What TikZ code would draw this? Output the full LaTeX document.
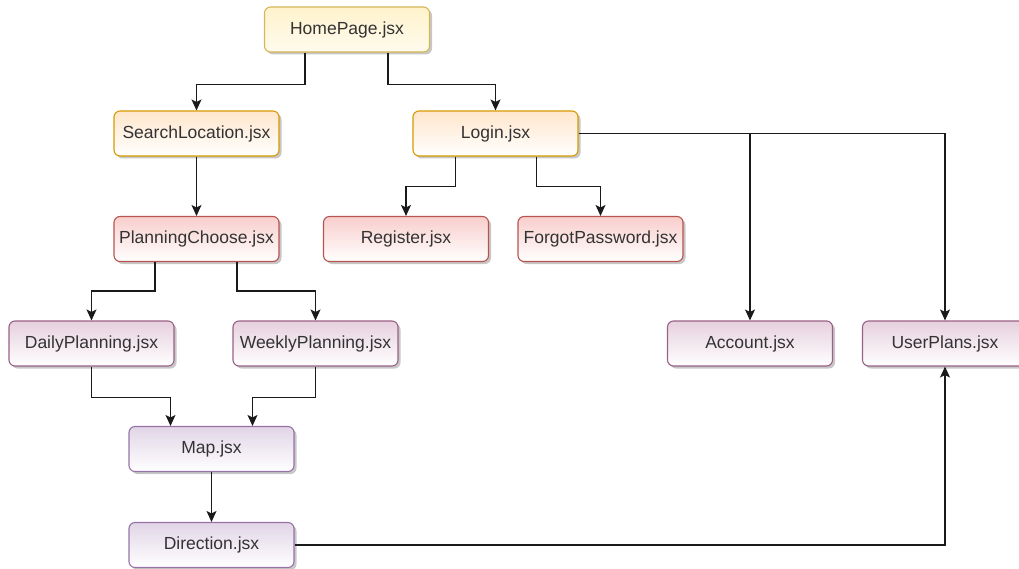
\documentclass[tikz,border=0pt]{standalone}
\usepackage{fontspec}
\setmainfont{Liberation Sans}
\usetikzlibrary{arrows.meta,shadows}

\definecolor{txt}{HTML}{333333}
\definecolor{wire}{HTML}{1A1A1A}
% component colour families: stroke / top fill
\definecolor{yelS}{HTML}{D6B656}\definecolor{yelF}{HTML}{FFF2CC}
\definecolor{orgS}{HTML}{D79B00}\definecolor{orgF}{HTML}{FFE6CC}
\definecolor{redS}{HTML}{B85450}\definecolor{redF}{HTML}{F8CECC}
\definecolor{pnkS}{HTML}{996185}\definecolor{pnkF}{HTML}{E6D0DE}
\definecolor{purS}{HTML}{9673A6}\definecolor{purF}{HTML}{E1D5E7}

\tikzset{
  comp/.style={rectangle, rounded corners=6pt, minimum width=165pt,
    minimum height=45pt, inner sep=0pt, line width=1.1pt, text=txt,
    font=\fontsize{17.5}{19}\selectfont,
    drop shadow={shadow xshift=2.5pt, shadow yshift=-2.5pt, opacity=0.22, fill=black}},
  yel/.style={comp, draw=yelS, top color=yelF, bottom color=yelF!35!white},
  org/.style={comp, draw=orgS, top color=orgF, bottom color=white},
  red/.style={comp, draw=redS, top color=redF, bottom color=white},
  pnk/.style={comp, draw=pnkS, top color=pnkF, bottom color=white},
  pur/.style={comp, draw=purS, top color=purF, bottom color=white},
  arr/.style={draw=wire, line width=1.2pt,
    -{Stealth[length=11pt, width=10pt, inset=2.5pt]}},
}

\begin{document}
\begin{tikzpicture}[x=1pt, y=-1pt]
\useasboundingbox (0,0) rectangle (1019,569);

% components
\node[yel] (home)   at (347,29.5)  {HomePage.jsx};
\node[org] (search) at (196.5,133.5) {SearchLocation.jsx};
\node[org] (login)  at (495.5,133.5) {Login.jsx};
\node[red] (plan)   at (196.5,239)   {PlanningChoose.jsx};
\node[red] (reg)    at (406,239)   {Register.jsx};
\node[red] (forgot) at (600.5,239) {ForgotPassword.jsx};
\node[pnk] (daily)  at (91.5,343.5) {DailyPlanning.jsx};
\node[pnk] (weekly) at (315.5,343.5) {WeeklyPlanning.jsx};
\node[pnk] (acct)   at (750,343.5) {Account.jsx};
\node[pnk] (uplans) at (945,343.5) {UserPlans.jsx};
\node[pur] (map)    at (211.5,449) {Map.jsx};
\node[pur] (dir)    at (211.5,545) {Direction.jsx};

% navigation links
\draw[arr] ([xshift=-42pt]home.south) -- ++(0,32) -| (search.north);
\draw[arr] ([xshift=41pt]home.south)  -- ++(0,32) -| (login.north);
\draw[arr] (search.south) -- (plan.north);
\draw[arr] ([xshift=-40pt]login.south) -- ++(0,30) -| (reg.north);
\draw[arr] ([xshift=41pt]login.south)  -- ++(0,30) -| (forgot.north);
\draw[arr] (login.east) -| (acct.north);
\draw[arr] (login.east) -| (uplans.north);
\draw[arr] ([xshift=-41.5pt]plan.south) -- ++(0,29) -| (daily.north);
\draw[arr] ([xshift=40.5pt]plan.south)  -- ++(0,29) -| (weekly.north);
\draw[arr] (daily.south)  -- ++(0,31) -| ([xshift=-41pt]map.north);
\draw[arr] (weekly.south) -- ++(0,31) -| ([xshift=41pt]map.north);
\draw[arr] (map.south) -- (dir.north);
\draw[arr] (dir.east) -| (uplans.south);
\end{tikzpicture}
\end{document}
